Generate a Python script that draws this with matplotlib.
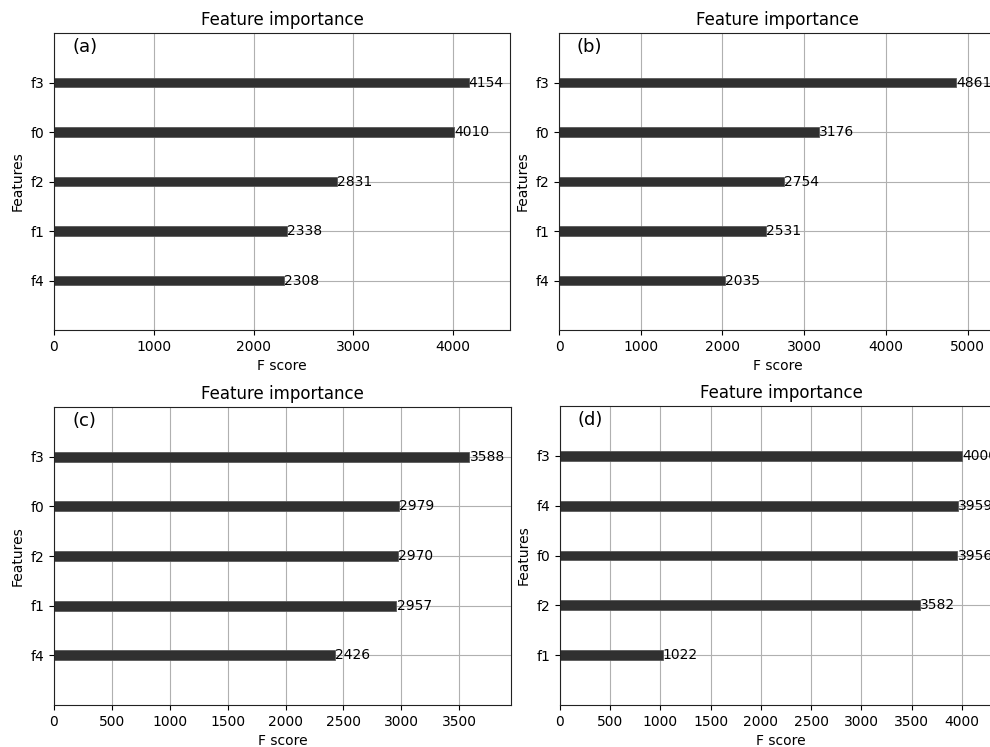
import matplotlib
matplotlib.use("Agg")
import matplotlib.pyplot as plt
import numpy as np

W, H = 990, 747

tags = ["(a)", "(b)", "(c)", "(d)"]
features_a = ["f3", "f0", "f2", "f1", "f4"]
scores_a = [4154, 4010, 2831, 2338, 2308]
features_b = ["f3", "f0", "f2", "f1", "f4"]
scores_b = [4861, 3176, 2754, 2531, 2035]
features_c = ["f3", "f0", "f2", "f1", "f4"]
scores_c = [3588, 2979, 2970, 2957, 2426]
features_d = ["f3", "f4", "f0", "f2", "f1"]
scores_d = [4000, 3959, 3956, 3582, 1022]

# axes boxes in pixels: left, top, width, height
boxes = [(54, 33, 456, 297),
         (559, 33, 437, 297),
         (54, 407, 457, 298),
         (560, 406, 442, 299)]
panels = [(features_a, scores_a), (features_b, scores_b),
          (features_c, scores_c), (features_d, scores_d)]

fig = plt.figure(figsize=(W / 100, H / 100), dpi=100)

for (l, t, w, h), (feats, vals), tag in zip(boxes, panels, tags):
    ax = fig.add_axes([l / W, (H - t - h) / H, w / W, h / H])
    feats = feats[::-1]
    vals = vals[::-1]
    ylocs = np.arange(len(vals))
    ax.barh(ylocs, vals, align='center', height=0.2,
            color='#303030', edgecolor='#5a5a5a', linewidth=0.6, zorder=2)
    for x, y in zip(vals, ylocs):
        ax.text(x + 1, y, str(x), va='center', fontsize=10, zorder=3)
    ax.set_yticks(ylocs)
    ax.set_yticklabels(feats)
    ax.set_xlim(0, max(vals) * 1.1)
    ax.set_ylim(-1, len(vals))
    ax.set_title("Feature importance", fontsize=12)
    ax.set_xlabel("F score")
    ax.set_ylabel("Features")
    ax.grid(True, color='#b0b0b0', linewidth=0.8, zorder=0)
    ax.set_axisbelow(True)
    for s in ax.spines.values():
        s.set_color('#222222')
    ax.text(0.04, 0.953, tag, transform=ax.transAxes, fontsize=13,
            va='center', ha='left')

fig.savefig("out.png", dpi=100)
